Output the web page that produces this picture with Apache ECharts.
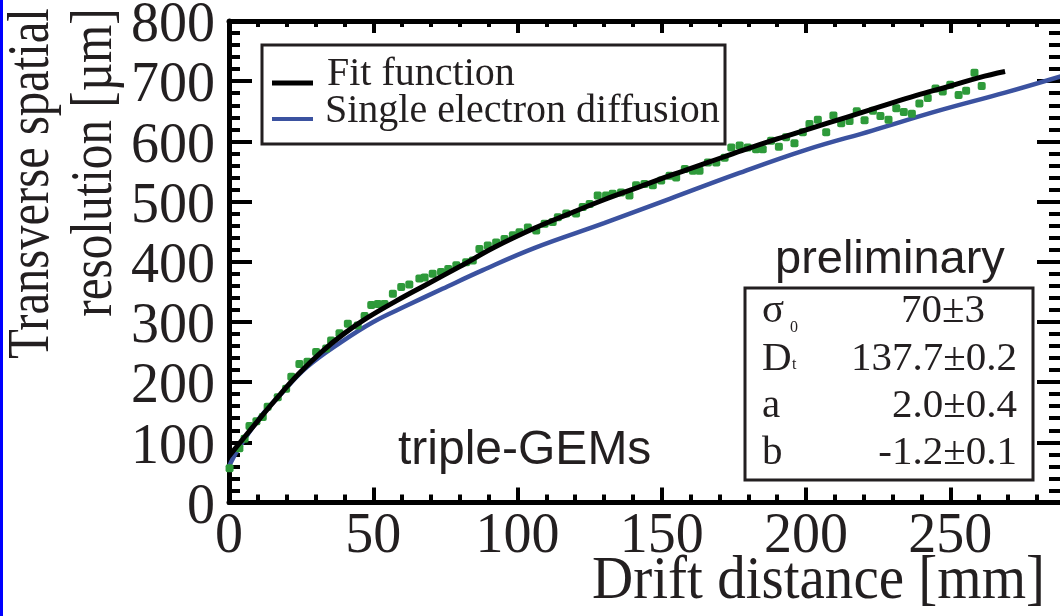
<!DOCTYPE html>
<html>
<head>
<meta charset="utf-8">
<script src="https://cdn.jsdelivr.net/npm/echarts@6/dist/echarts.min.js"></script>
<style>
html,body{margin:0;padding:0;background:#fff;}
#chart{width:1060px;height:616px;}
</style>
</head>
<body>
<div id="chart"></div>
<script>
// ---- data ----
const xTickLabels = [0, 50, 100, 150, 200, 250];
const yTickLabels = [0, 100, 200, 300, 400, 500, 600, 700, 800];

const dataX = [0.2, 3.6, 5.4, 7.1, 9.5, 11.7, 13.4, 16.9, 19.8, 21.6, 24.4, 27.2, 30.2, 33.7, 35.4, 38.3, 41.2, 44.6, 47, 49.3,
  51.6, 53.9, 56.8, 59.7, 62.5, 66, 67.8, 70.6, 73.5, 76, 78.8, 82.2, 84.5, 86.8, 89.7, 92.6, 95.5, 98.4, 100.7, 103.6,
  106.5, 109.4, 112.2, 114, 116.9, 120.3, 122.6, 125, 127.8, 130.7, 133, 135.9, 138.8, 141.1, 144, 146.9, 149.8, 152.7, 155, 158,
  160.8, 163.1, 166, 168.9, 171.8, 174.1, 177, 179.8, 182.7, 185, 187.9, 190.6, 193.1, 196, 198.9, 201.2, 204.1, 207, 209.5, 212.2,
  215.1, 217.6, 220.3, 223.2, 225.8, 228.6, 231.3, 233.9, 236.7, 239.3, 242.2, 244.9, 247.4, 250, 252.9, 255.5, 258.4, 260.9];
const dataY = [57, 90, 106, 127, 135, 142, 159, 175, 189, 209, 230, 234, 250, 256, 269, 281, 297, 294, 310, 328,
  330, 330, 347, 358, 362, 372, 374, 380, 383, 388, 394, 399, 402, 421, 427, 432, 438, 444, 449, 457,
  452, 463, 466, 474, 480, 480, 491, 496, 510, 510, 513, 515, 510, 527, 529, 527, 535, 543, 540, 554,
  551, 551, 565, 565, 573, 590, 593, 590, 587, 587, 601, 591, 607, 597, 615, 629, 636, 615, 643, 630,
  634, 650, 635, 651, 642, 636, 655, 649, 646, 663, 672, 688, 683, 694, 677, 684, 714, 692];

const fitX = [0, 8, 16, 24, 32, 40, 48, 58, 68, 80, 92, 106, 118, 130, 142, 154, 166, 178, 190, 202, 214, 226, 238, 250, 260, 269];
const fitY = [77, 124, 170, 213, 250, 281, 307, 335, 361, 392, 424, 456, 480, 503, 524, 545, 565, 585, 604, 622, 640, 658, 676, 692, 706, 716];

const diffX = [0, 3, 10, 17, 27, 39, 50, 62, 74, 88, 106, 130, 153, 176, 200, 223, 246, 269, 289];
const diffY = [60, 87, 137, 175, 225, 267, 300, 328, 355, 386, 423, 464, 505, 546, 586, 618, 651, 681, 709];

const seriesNames = ['Fit function', 'Single electron diffusion'];
const statLabels = ['σ', 'D', 'a', 'b'];
const statSubs = ['0', 't', '', ''];
const statValues = ['70±3', '137.7±0.2', '2.0±0.4', '-1.2±0.1'];

// ---- chart ----
const pair = (xs, ys) => xs.map((x, i) => [x, ys[i]]);
const INK = '#231f20';
const SERIF = '"Liberation Serif", "Times New Roman", serif';
const SANS = '"Liberation Sans", Arial, sans-serif';

const chart = echarts.init(document.getElementById('chart'), null, {renderer: 'canvas'});

const axisLineStyle = {color: '#000', width: 5};
const tickStyle = {color: '#000', width: 4};

const graphic = [
  {type: 'rect', shape: {x: 0, y: 0, width: 3, height: 616}, style: {fill: '#0000ff'}},
  // legend box
  {type: 'rect', shape: {x: 262, y: 45, width: 463, height: 99}, style: {fill: 'none', stroke: INK, lineWidth: 3}},
  {type: 'line', shape: {x1: 272, y1: 83, x2: 313, y2: 83}, style: {stroke: '#000', lineWidth: 5}},
  {type: 'line', shape: {x1: 272, y1: 119, x2: 313, y2: 119}, style: {stroke: '#3b52a0', lineWidth: 4}},
  {type: 'text', x: 327, y: 74.8, style: {text: seriesNames[0], fontSize: 40, fontFamily: SERIF, fill: INK, align: 'left', verticalAlign: 'middle'}},
  {type: 'text', x: 325, y: 111.5, style: {text: seriesNames[1], fontSize: 40, fontFamily: SERIF, fill: INK, align: 'left', verticalAlign: 'middle'}},
  // stats box
  {type: 'rect', shape: {x: 745, y: 288, width: 288, height: 192}, style: {fill: '#fff', stroke: INK, lineWidth: 3}},
  // annotations
  {type: 'text', x: 775, y: 259.7, style: {text: 'preliminary', fontSize: 47, fontFamily: SANS, fill: INK, align: 'left', verticalAlign: 'middle'}},
  {type: 'text', x: 398, y: 450.4, style: {text: 'triple-GEMs', fontSize: 48, fontFamily: SANS, fill: INK, align: 'left', verticalAlign: 'middle'}},
  // axis titles
  {type: 'text', x: 31.8, y: 183.5, rotation: Math.PI / 2, scaleX: 0.81, style: {text: 'Transverse spatial', fontSize: 60, fontFamily: SERIF, fill: INK, align: 'center', verticalAlign: 'middle'}},
  {type: 'text', x: 94.8, y: 162.5, rotation: Math.PI / 2, scaleX: 0.82, style: {text: 'resolution [µm]', fontSize: 60, fontFamily: SERIF, fill: INK, align: 'center', verticalAlign: 'middle'}},
  {type: 'text', x: 1045, y: 582, scaleX: 0.92, style: {text: 'Drift distance [mm]', fontSize: 62, fontFamily: SERIF, fill: INK, align: 'right', verticalAlign: 'middle'}}
];
const statBase = [325, 373, 420, 467];
const subBase = [333, 370];
statLabels.forEach((t, i) => {
  graphic.push({type: 'text', x: 762, y: statBase[i] - 13.8, style: {text: t, fontSize: 41, fontFamily: SERIF, fill: INK, align: 'left', verticalAlign: 'middle'}});
  if (statSubs[i]) {
    graphic.push({type: 'text', x: i === 0 ? 790 : 792, y: subBase[i] - 5.4, style: {text: statSubs[i], fontSize: 16, fontFamily: SERIF, fill: INK, align: 'left', verticalAlign: 'middle'}});
  }
  graphic.push({type: 'text', x: i === 0 ? 985 : 1017, y: statBase[i] - 13.8, style: {text: statValues[i], fontSize: 41, fontFamily: SERIF, fill: INK, align: 'right', verticalAlign: 'middle'}});
});

const option = {
  animation: false,
  backgroundColor: '#fff',
  grid: {left: 229, top: 21, right: -34.5, bottom: 113.5, containLabel: false, outerBoundsMode: 'none'},
  xAxis: [
    {
      type: 'value', min: 0, max: 300, interval: 50, position: 'bottom',
      axisLine: {show: true, onZero: false, lineStyle: axisLineStyle},
      axisTick: {show: true, inside: true, length: 15, lineStyle: tickStyle},
      minorTick: {show: true, splitNumber: 5, length: 8, lineStyle: tickStyle},
      splitLine: {show: false},
      axisLabel: {
        show: true, margin: 7, fontSize: 56, fontFamily: SERIF, color: INK,
        formatter: v => (xTickLabels.indexOf(v) >= 0 ? String(v) : '')
      }
    },
    {
      type: 'value', min: 0, max: 300, interval: 50, position: 'top',
      axisLine: {show: true, onZero: false, lineStyle: axisLineStyle},
      axisTick: {show: true, inside: true, length: 12, lineStyle: tickStyle},
      minorTick: {show: true, splitNumber: 5, length: 6, lineStyle: tickStyle},
      splitLine: {show: false},
      axisLabel: {show: false}
    }
  ],
  yAxis: [
    {
      type: 'value', min: 0, max: 800, interval: 100, position: 'left',
      axisLine: {show: true, onZero: false, lineStyle: axisLineStyle},
      axisTick: {show: true, inside: true, length: 23, lineStyle: tickStyle},
      minorTick: {show: true, splitNumber: 5, length: 11, lineStyle: tickStyle},
      splitLine: {show: false},
      axisLabel: {
        show: true, margin: 14, fontSize: 56, fontFamily: SERIF, color: INK,
        verticalAlign: 'top', lineHeight: 11,
        formatter: v => (yTickLabels.indexOf(v) >= 0 ? String(v) : '')
      }
    },
    {
      type: 'value', min: 0, max: 800, interval: 100, position: 'right', offset: -32.5,
      axisLine: {show: false, onZero: false},
      axisTick: {show: true, inside: true, length: 25, lineStyle: tickStyle},
      minorTick: {show: true, splitNumber: 5, length: 13, lineStyle: tickStyle},
      splitLine: {show: false},
      axisLabel: {show: false}
    }
  ],
  series: [
    {
      name: seriesNames[1], type: 'line', xAxisIndex: 0, yAxisIndex: 0,
      data: pair(diffX, diffY), smooth: 0.4, showSymbol: false, symbol: 'none',
      lineStyle: {color: '#3b52a0', width: 4.5}, itemStyle: {color: '#3b52a0'}, z: 2
    },
    {
      name: 'Data', type: 'scatter', xAxisIndex: 0, yAxisIndex: 0,
      data: pair(dataX, dataY), symbol: 'roundRect', symbolSize: 8,
      itemStyle: {color: '#2e9a3a', opacity: 1}, z: 3
    },
    {
      name: seriesNames[0], type: 'line', xAxisIndex: 0, yAxisIndex: 0,
      data: pair(fitX, fitY), smooth: 0.4, showSymbol: false, symbol: 'none',
      lineStyle: {color: '#000', width: 5}, itemStyle: {color: '#000'}, z: 4
    }
  ],
  graphic: graphic
};
chart.setOption(option);
</script>
</body>
</html>
